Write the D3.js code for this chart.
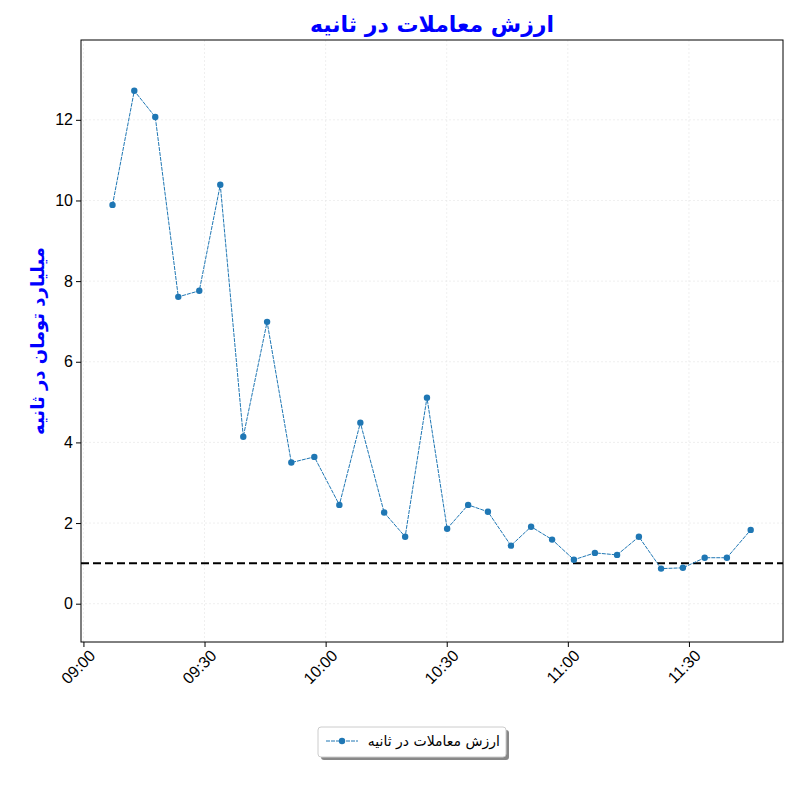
<!DOCTYPE html>
<html><head><meta charset="utf-8">
<script src="https://cdn.jsdelivr.net/npm/d3@7"></script>
<style>body{margin:0;background:#fff}svg{font-family:"DejaVu Sans",sans-serif}</style>
</head><body><div id="chart"></div>
<script>
var times = ["09:07:12","09:12:36","09:17:48","09:23:30","09:28:42","09:33:54","09:39:36","09:45:30","09:51:30","09:57:12",
  "10:03:24","10:08:36","10:14:30","10:19:42","10:25:06","10:30:06","10:35:18","10:40:12","10:45:54","10:50:54",
  "10:56:06","11:01:30","11:06:42","11:12:12","11:17:36","11:23:06","11:28:30","11:33:54","11:39:24","11:45:18"];
var values = [9.89,12.72,12.07,7.61,7.76,10.39,4.14,6.99,3.50,3.64,2.45,4.49,2.26,1.66,5.11,1.86,2.45,2.28,1.44,1.91,
  1.59,1.09,1.26,1.21,1.66,0.87,0.89,1.14,1.14,1.83];
var xTicks = ["09:00","09:30","10:00","10:30","11:00","11:30"];
var yTicks = [0,2,4,6,8,10,12];
var refLine = 1;

var parse = d3.timeParse("%H:%M:%S");
var data = times.map(function(t,i){ return {t: parse(t), v: values[i]}; });

var svg = d3.select("#chart").append("svg").attr("width",800).attr("height",800);
var L=81, R=783, T=40, B=642;
var x = d3.scaleTime().domain([parse("08:59:24"), parse("11:53:18")]).range([L,R]);
var y = d3.scaleLinear().domain([-0.95, 13.98]).range([B,T]);

var g = svg.append("g");
// grid
g.selectAll(".gx").data(xTicks).enter().append("line")
  .attr("x1",function(d){return x(parse(d+":00"));}).attr("x2",function(d){return x(parse(d+":00"));})
  .attr("y1",T).attr("y2",B).attr("stroke","#e4e4e4").attr("stroke-width",0.6).attr("stroke-dasharray","2,2");
g.selectAll(".gy").data(yTicks).enter().append("line")
  .attr("x1",L).attr("x2",R).attr("y1",function(d){return y(d);}).attr("y2",function(d){return y(d);})
  .attr("stroke","#e4e4e4").attr("stroke-width",0.6).attr("stroke-dasharray","2,2");

// axes
var xa = svg.append("g").attr("transform","translate(0,"+B+")")
  .call(d3.axisBottom(x).tickValues(xTicks.map(function(d){return parse(d+":00");})).tickFormat(d3.timeFormat("%H:%M")).tickSize(5));
xa.selectAll("text").attr("font-size",16).attr("fill","#000")
  .attr("text-anchor","end").attr("dx","-0.1em").attr("dy","0.7em").attr("transform","rotate(-45)");
var ya = svg.append("g").attr("transform","translate("+L+",0)")
  .call(d3.axisLeft(y).tickValues(yTicks).tickSize(5));
ya.selectAll("text").attr("font-size",16).attr("fill","#000");
svg.selectAll(".domain").remove();
svg.append("rect").attr("x",L).attr("y",T).attr("width",R-L).attr("height",B-T)
  .attr("fill","none").attr("stroke","#000").attr("stroke-width",1);

// reference line
svg.append("line").attr("x1",L).attr("x2",R).attr("y1",y(refLine)).attr("y2",y(refLine))
  .attr("stroke","#000").attr("stroke-width",2).attr("stroke-dasharray","8,4");

// series
svg.append("path").datum(data).attr("fill","none").attr("stroke","#1f77b4").attr("stroke-width",1)
  .attr("stroke-dasharray","4,1")
  .attr("d", d3.line().x(function(d){return x(d.t);}).y(function(d){return y(d.v);}));
svg.selectAll(".pt").data(data).enter().append("circle")
  .attr("cx",function(d){return x(d.t);}).attr("cy",function(d){return y(d.v);})
  .attr("r",3.2).attr("fill","#1f77b4");

// title & label
svg.append("text").attr("x",432).attr("y",32).attr("text-anchor","middle")
  .attr("font-size",22).attr("font-weight","bold").attr("fill","#0000ff").text("ارزش معاملات در ثانیه");
svg.append("text").attr("transform","translate(44,341) rotate(-90)").attr("text-anchor","middle")
  .attr("font-size",18).attr("font-weight","bold").attr("fill","#0000ff").text("میلیارد تومان در ثانیه");

// legend
var lg = svg.append("g").attr("transform","translate(318,727)");
lg.append("rect").attr("x",3).attr("y",3).attr("width",188).attr("height",30).attr("rx",3).attr("fill","#888");
lg.append("rect").attr("width",188).attr("height",30).attr("rx",3).attr("fill","#fff").attr("stroke","#ccc");
lg.append("line").attr("x1",8).attr("x2",40).attr("y1",14).attr("y2",14).attr("stroke","#1f77b4").attr("stroke-dasharray","4,1");
lg.append("circle").attr("cx",24).attr("cy",14).attr("r",3.2).attr("fill","#1f77b4");
lg.append("text").attr("x",182).attr("y",19).attr("text-anchor","end").attr("font-size",14).attr("fill","#000")
  .text("ارزش معاملات در ثانیه");
</script></body></html>
